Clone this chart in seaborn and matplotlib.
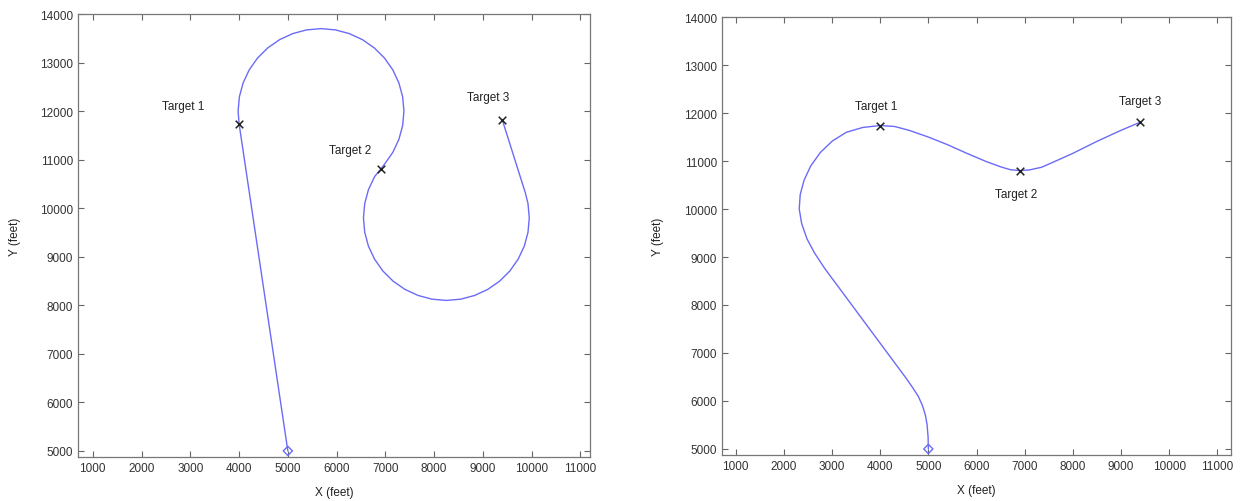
import matplotlib
matplotlib.use("Agg")
import matplotlib.pyplot as plt
import seaborn as sns
import pandas as pd

# targets (feet)
target_names = ["Target 1", "Target 2", "Target 3"]
target_x = [4000, 6900, 9400]
target_y = [11740, 10800, 11810]
start_x = [5000]
start_y = [5000]

# path
left_x = [5000, 4000, 3980, 4006, 4083, 4208, 4378, 4587, 4830, 5099, 5385, 5680,
          5975, 6261, 6530, 6773, 6982, 7152, 7277, 7354, 7380, 7354, 7277, 7152,
          6982, 6900, 6778, 6652, 6576, 6550, 6576, 6652, 6778, 6948, 7157, 7400,
          7669, 7955, 8250, 8545, 8831, 9100, 9343, 9552, 9722, 9848, 9924, 9950,
          9924, 9870, 9400]
left_y = [5000, 11740, 12000, 12295, 12581, 12850, 13093, 13302, 13472, 13597, 13674, 13700,
          13674, 13597, 13472, 13302, 13093, 12850, 12581, 12295, 12000, 11705, 11419, 11150,
          10907, 10800, 10650, 10381, 10095, 9800, 9505, 9219, 8950, 8707, 8498, 8328,
          8203, 8126, 8100, 8126, 8203, 8328, 8498, 8707, 8950, 9219, 9505, 9800,
          10095, 10314, 11810]

# path
right_x = [5000, 4995, 4975, 4940, 4880, 4790, 4660, 4520, 2850, 2640, 2480, 2370,
           2320, 2340, 2420, 2560, 2760, 3010, 3300, 3640, 4000, 4300, 4600, 5000,
           5400, 5800, 6200, 6500, 6700, 6900, 7100, 7350, 7600, 8000, 8500, 9000, 9400]
right_y = [5000, 5250, 5500, 5700, 5900, 6100, 6300, 6500, 8760, 9080, 9380, 9700,
           10000, 10300, 10600, 10900, 11180, 11420, 11600, 11700, 11740, 11720, 11640, 11500,
           11340, 11160, 10990, 10880, 10820, 10800, 10815, 10870, 10980, 11160, 11410, 11640, 11810]

xticks = list(range(1000, 11001, 1000))
yticks = list(range(5000, 14001, 1000))

sns.set_style("ticks")
plt.rcParams['font.family'] = ['Liberation Sans', 'DejaVu Sans']
plt.rcParams['xtick.direction'] = 'in'
plt.rcParams['ytick.direction'] = 'in'
plt.rcParams['xtick.top'] = True
plt.rcParams['ytick.right'] = True

line_col = '#6b6bf7'
fig = plt.figure(figsize=(12.4, 5.02), dpi=100)
ax1 = fig.add_axes([0.063, 0.088, 0.413, 0.882])
ax2 = fig.add_axes([0.582, 0.092, 0.411, 0.872])

# label offsets in points (label centre relative to target)
offsets1 = [(-40, 13), (-22, 14), (-10, 17)]
offsets2 = [(-3, 14), (-3, -17), (0, 15)]

for ax, px, py, offs, xl in [(ax1, left_x, left_y, offsets1, (700, 11200)),
                             (ax2, right_x, right_y, offsets2, (710, 11290))]:
    path = pd.DataFrame({"x": px, "y": py})
    sns.lineplot(data=path, x="x", y="y", sort=False, estimator=None,
                 color=line_col, linewidth=1.0, ax=ax)
    sns.scatterplot(x=start_x, y=start_y, marker='D', s=22, facecolor='none',
                    edgecolor=line_col, linewidth=1.0, ax=ax, zorder=4)
    sns.scatterplot(x=target_x, y=target_y, marker='x', s=30, color='#222222',
                    linewidth=1.1, ax=ax, zorder=5)
    for name, tx, ty, off in zip(target_names, target_x, target_y, offs):
        ax.annotate(name, (tx, ty), xytext=off, textcoords='offset points',
                    ha='center', va='center', fontsize=8.5, color='#222222')
    ax.set_xlim(*xl)
    ax.set_ylim(4878, 14000)
    ax.set_xticks(xticks)
    ax.set_yticks(yticks)
    ax.tick_params(labelsize=8.5, colors='#333333', length=4, width=0.8,
                   color='#666666')
    for s in ax.spines.values():
        s.set_color('#777777')
        s.set_linewidth(0.9)
    ax.set_xlabel("X (feet)", fontsize=8.5, color='#222222', labelpad=9)
    ax.set_ylabel("Y (feet)", fontsize=8.5, color='#222222', labelpad=14)

fig.savefig("out.png", dpi=100)
